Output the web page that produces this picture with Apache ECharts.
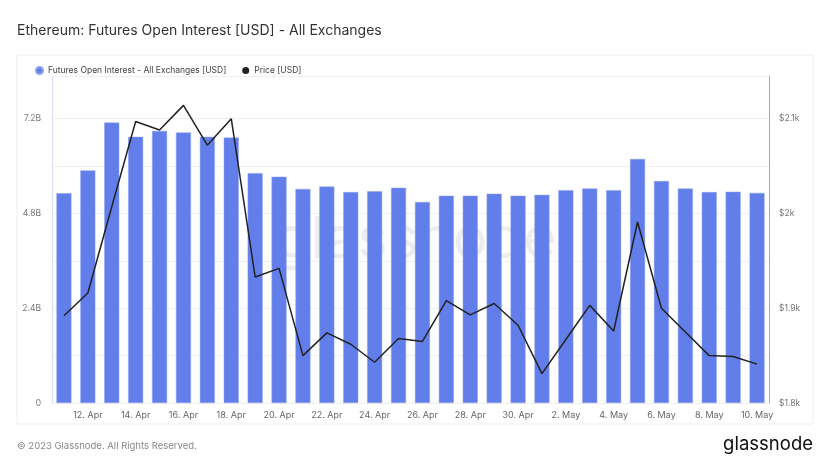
<!DOCTYPE html>
<html>
<head>
<meta charset="utf-8">
<title>Ethereum: Futures Open Interest</title>
<script src="https://cdn.jsdelivr.net/npm/echarts@6/dist/echarts.min.js"></script>
<style>
  html, body { margin: 0; padding: 0; background: #fff; }
  #chart { width: 832px; height: 468px; }
</style>
</head>
<body>
<div id="chart"></div>
<script>
// dates, one bar per day
var dates = [
    '11. Apr', '12. Apr', '13. Apr', '14. Apr', '15. Apr', '16. Apr', '17. Apr', '18. Apr', '19. Apr', '20. Apr',
    '21. Apr', '22. Apr', '23. Apr', '24. Apr', '25. Apr', '26. Apr', '27. Apr', '28. Apr', '29. Apr', '30. Apr',
    '1. May', '2. May', '3. May', '4. May', '5. May', '6. May', '7. May', '8. May', '9. May', '10. May'
];
// open interest, USD
var openInterest = [
    5.31e9, 5.89e9, 7.10e9, 6.74e9, 6.89e9, 6.85e9, 6.74e9, 6.72e9, 5.82e9, 5.73e9,
    5.42e9, 5.48e9, 5.34e9, 5.36e9, 5.45e9, 5.09e9, 5.25e9, 5.25e9, 5.30e9, 5.25e9,
    5.27e9, 5.39e9, 5.43e9, 5.39e9, 6.18e9, 5.62e9, 5.43e9, 5.34e9, 5.35e9, 5.32e9
];
// ETH price, USD
var price = [
    1892, 1916, 2007, 2097, 2088, 2114, 2072, 2100, 1933, 1942,
    1850, 1874, 1862, 1843, 1868, 1865, 1908, 1893, 1905, 1882,
    1831, 1867, 1903, 1876, 1991, 1900, 1875, 1850, 1849, 1841
];
var leftTicks = { 0: '0', 2.4: '2.4B', 4.8: '4.8B', 7.2: '7.2B' };
var rightTicks = { 1800: '$1.8k', 1900: '$1.9k', 2000: '$2k', 2100: '$2.1k' };

var myChart = echarts.init(document.getElementById('chart'));
var font = 'Inter, "Noto Sans", sans-serif';

var option = {
    backgroundColor: '#fff',
    animation: false,
    textStyle: { fontFamily: font },
    title: {
        text: 'Ethereum: Futures Open Interest [USD] - All Exchanges',
        left: 12,
        top: 19,
        textStyle: { fontSize: 14, fontWeight: 'normal', color: '#333', fontFamily: font }
    },
    legend: {
        left: 30,
        top: 61,
        icon: 'circle',
        itemWidth: 7,
        itemHeight: 7,
        itemGap: 16,
        itemTextGap: 4,
        textStyle: { fontSize: 8.5, color: '#444', fontFamily: font },
        data: [
            { name: 'Futures Open Interest - All Exchanges [USD]', itemStyle: { color: '#627EEA' } },
            { name: 'Price [USD]', itemStyle: { color: '#222' } }
        ]
    },
    graphic: [
        {
            type: 'rect', z: -10,
            shape: { x: 17, y: 55, width: 796, height: 369 },
            style: { fill: 'none', stroke: '#eeeeee', lineWidth: 1 }
        },
        {
            type: 'text', z: -5, left: 'center', top: 212,
            style: { text: 'glassnode', fontSize: 58, fontFamily: font, fill: 'rgba(0,0,0,0.07)' }
        },
        {
            type: 'text', left: 17, top: 441,
            style: { text: '\u00a9 2023 Glassnode. All Rights Reserved.', fontSize: 9.5, fontFamily: font, fill: '#888' }
        },
        {
            type: 'text', right: 19, top: 435,
            style: { text: 'glassnode', fontSize: 18.5, fontFamily: font, fill: '#111' }
        }
    ],
    grid: { left: 52, right: 63, top: 76, bottom: 65 },
    xAxis: {
        type: 'category',
        data: dates,
        axisTick: { show: false },
        axisLine: { show: true, lineStyle: { color: '#eeeeee' } },
        axisLabel: {
            interval: function (index) { return index % 2 === 1; },
            color: '#666',
            fontSize: 9,
            margin: 8
        }
    },
    yAxis: [
        {
            type: 'value',
            min: 0,
            max: 8.28e9,
            interval: 1.2e9,
            axisLine: { show: true, lineStyle: { color: '#d4dcf8' } },
            axisTick: { show: false },
            splitLine: { show: true, lineStyle: { color: '#f0f0f0' } },
            axisLabel: {
                color: '#777',
                fontSize: 8.5,
                margin: 11,
                formatter: function (v) {
                    var k = Math.round(v / 1e8) / 10;
                    return leftTicks[k] !== undefined ? leftTicks[k] : '';
                }
            }
        },
        {
            type: 'value',
            min: 1800,
            max: 2145,
            interval: 50,
            axisLine: { show: true, lineStyle: { color: '#aaaaaa' } },
            axisTick: { show: false },
            splitLine: { show: false },
            axisLabel: {
                color: '#777',
                fontSize: 8.5,
                margin: 10,
                formatter: function (v) {
                    return rightTicks[v] !== undefined ? rightTicks[v] : '';
                }
            }
        }
    ],
    series: [
        {
            name: 'Futures Open Interest - All Exchanges [USD]',
            type: 'bar',
            yAxisIndex: 0,
            barWidth: 15,
            data: openInterest,
            itemStyle: { color: '#627EEA', borderColor: '#8fa2f0', borderWidth: 0.5 }
        },
        {
            name: 'Price [USD]',
            type: 'line',
            yAxisIndex: 1,
            data: price,
            showSymbol: false,
            symbol: 'none',
            lineStyle: { color: '#222', width: 1.5 },
            itemStyle: { color: '#222' },
            z: 5
        }
    ]
};
myChart.setOption(option);
window.addEventListener('resize', function () {
    myChart.resize();
});
</script>
</body>
</html>
